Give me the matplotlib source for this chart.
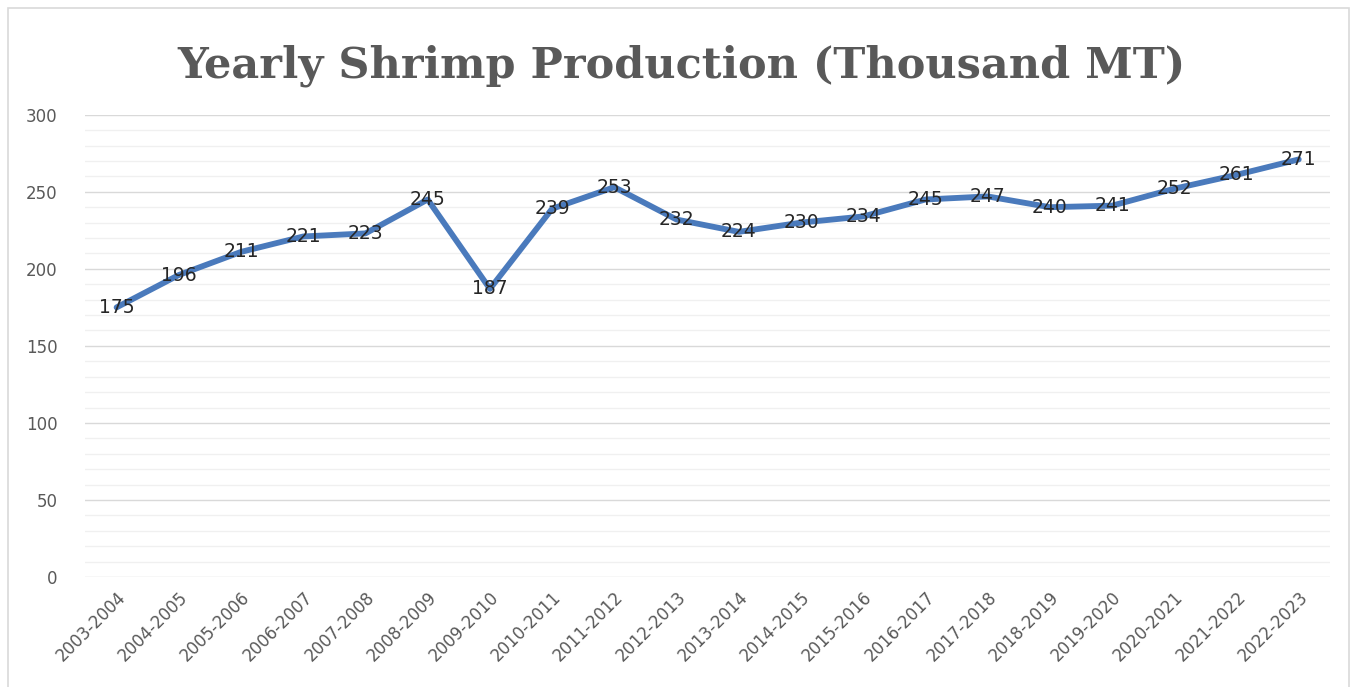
import matplotlib
matplotlib.use("Agg")
import matplotlib.pyplot as plt
from matplotlib.patches import Rectangle
from matplotlib.ticker import MultipleLocator

# data
years = ['2003-2004', '2004-2005', '2005-2006', '2006-2007', '2007-2008',
         '2008-2009', '2009-2010', '2010-2011', '2011-2012', '2012-2013',
         '2013-2014', '2014-2015', '2015-2016', '2016-2017', '2017-2018',
         '2018-2019', '2019-2020', '2020-2021', '2021-2022', '2022-2023']
production = [175, 196, 211, 221, 223, 245, 187, 239, 253, 232,
              224, 230, 234, 245, 247, 240, 241, 252, 261, 271]

fig = plt.figure(figsize=(13.57, 6.87), dpi=100)
ax = fig.add_axes([0.063, 0.160, 0.917, 0.673])

# light border round the whole chart
fig.patches.append(Rectangle((0.006, -0.02), 0.988, 1.008, transform=fig.transFigure,
                             fill=False, edgecolor='#d9d9d9', linewidth=1.2))

x = list(range(len(years)))
ax.plot(x, production, color='#4a7abc', linewidth=4.2, solid_capstyle='round',
        solid_joinstyle='round', zorder=3)

for xi, v in zip(x, production):
    ax.text(xi, v, str(v), ha='center', va='center', fontsize=13.5,
            color='#262626', zorder=4)

ax.set_xlim(-0.5, len(years) - 0.5)
ax.set_ylim(0, 300)
ax.yaxis.set_major_locator(MultipleLocator(50))
ax.yaxis.set_minor_locator(MultipleLocator(10))
ax.grid(which='major', axis='y', color='#d9d9d9', linewidth=1.0)
ax.grid(which='minor', axis='y', color='#f0f0f0', linewidth=1.0)
ax.set_axisbelow(True)

ax.set_xticks(x)
ax.set_xticklabels(years, rotation=45, ha='right', rotation_mode='anchor')
ax.tick_params(axis='x', length=0, labelsize=12, colors='#595959', pad=8)
ax.tick_params(axis='y', which='both', length=0, labelsize=12, colors='#595959', pad=20)

for s in ax.spines.values():
    s.set_visible(False)

fig.text(0.502, 0.905, 'Yearly Shrimp Production (Thousand MT)', ha='center', va='center',
         fontsize=31, fontweight='bold', family='DejaVu Serif', color='#595959')

fig.savefig('out.png', dpi=100)
